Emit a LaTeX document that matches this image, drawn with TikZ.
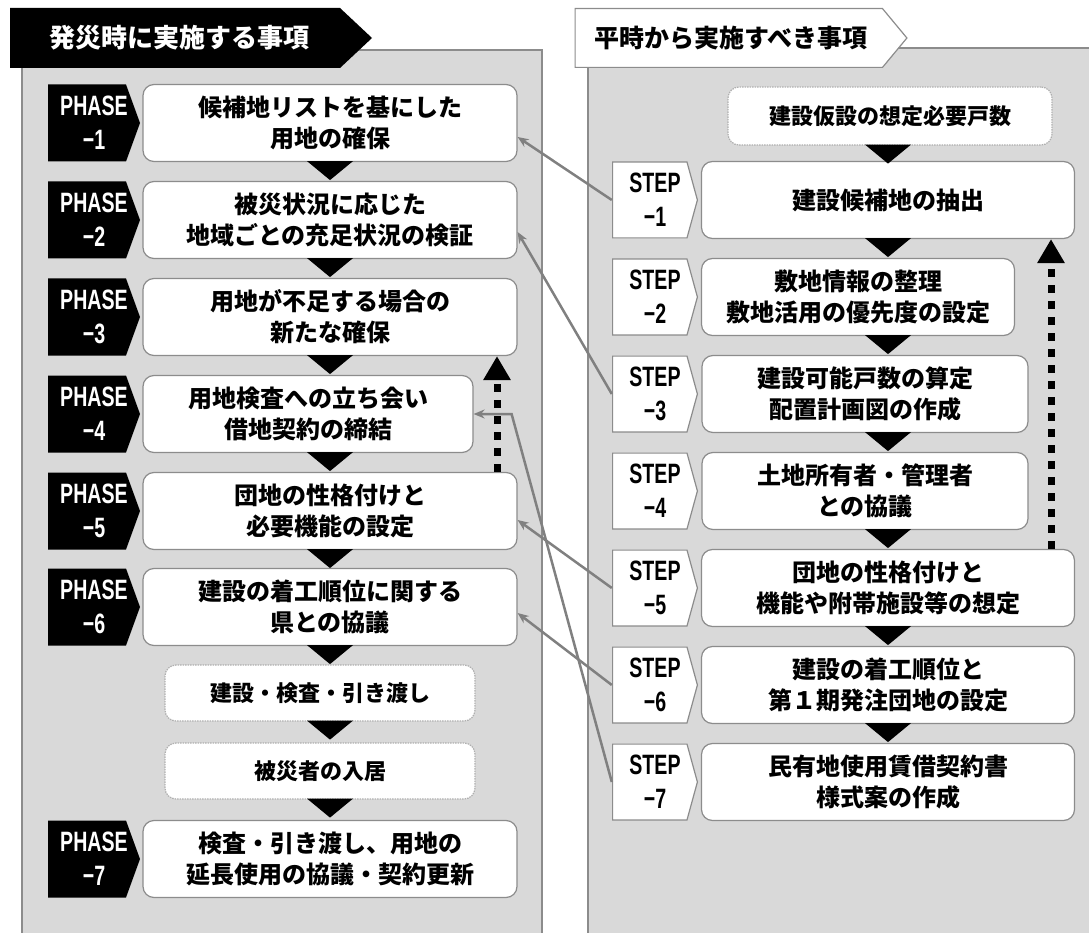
\documentclass[tikz,border=0pt]{standalone}
\usepackage{fontspec}
\setmainfont{Noto Sans CJK JP}
\newfontfamily\tagfont{Liberation Sans}[FakeStretch=0.7]
\usetikzlibrary{arrows.meta}
\definecolor{panelgray}{HTML}{D9D9D9}
\definecolor{linegray}{HTML}{8C8C8C}
\definecolor{linkgray}{HTML}{808080}

\begin{document}
\begin{tikzpicture}[x=1pt, y=-1pt,
        box/.style = {draw=linegray, line width=1.2pt, fill=white, rounded corners=11pt,
            minimum height=77pt, inner sep=0pt, align=center,
            font=\bfseries\fontsize{24}{31}\selectfont},
        dashbox/.style = {box, draw=linegray!70, dash pattern=on 1.5pt off 1pt,
            minimum height=56pt, font=\bfseries\fontsize{22}{30}\selectfont},
        % pentagon drawn inside the node's own box
        arrowfill/.style = {path picture={
            \fill[#1] (path picture bounding box.north west)
                -- ([xshift=-14pt]path picture bounding box.north east)
                -- (path picture bounding box.east)
                -- ([xshift=-14pt]path picture bounding box.south east)
                -- (path picture bounding box.south west) -- cycle;}},
        arrowline/.style = {path picture={
            \filldraw[fill=white, draw=linegray, line width=1.2pt]
                ([xshift=.6pt, yshift=-.6pt]path picture bounding box.north west)
                -- ([xshift=-#1, yshift=-.6pt]path picture bounding box.north east)
                -- ([xshift=-.6pt]path picture bounding box.east)
                -- ([xshift=-#1, yshift=.6pt]path picture bounding box.south east)
                -- ([xshift=.6pt, yshift=.6pt]path picture bounding box.south west) -- cycle;}},
        phase/.style = {arrowfill=black, text=white, minimum width=92pt, minimum height=77pt,
            inner sep=0pt, align=center, font=\tagfont\bfseries\fontsize{28}{34}\selectfont},
        stepbox/.style = {arrowline=11pt, text=black, minimum width=86pt, minimum height=77pt,
            inner sep=0pt, align=center, font=\tagfont\bfseries\fontsize{28}{34}\selectfont},
        link/.style = {draw=linkgray, line width=2.5pt, -{Stealth[length=11pt, width=9pt]}},
        back/.style = {line width=7pt, dash pattern=on 8pt off 8pt,
            -{Triangle[length=24pt, width=26pt]}}
    ]
    \useasboundingbox (0,0) rectangle (1089,933);
    % panels
    \fill[panelgray] (22,50) rectangle (542,933);
    \draw[linegray, line width=1.5pt] (22,933) -- (22,50) -- (542,50) -- (542,933);
    \fill[panelgray] (588,48) rectangle (1089,933);
    \draw[linegray, line width=1.5pt] (588,933) -- (588,48) -- (1089,48);
    % headers
    \node[path picture={\fill[black] (path picture bounding box.north west)
            -- ([xshift=-32pt]path picture bounding box.north east)
            -- (path picture bounding box.east)
            -- ([xshift=-32pt]path picture bounding box.south east)
            -- (path picture bounding box.south west) -- cycle;},
        text=white, minimum width=362pt, minimum height=60pt, inner sep=0pt,
        font=\bfseries\fontsize{26}{30}\selectfont] (lhead) at (191,38)
        {発災時に実施する事項\hspace*{24pt}};
    \node[arrowline=25pt, minimum width=333pt, minimum height=60pt, inner sep=0pt,
        font=\bfseries\fontsize{25}{30}\selectfont] (rhead) at (741,38)
        {平時から実施すべき事項\hspace*{20pt}};
    % left column
    \node[phase] (p1) at (94,123) {PHASE\\−1};
    \node[box, minimum width=374pt] (b1) at (330,123) {候補地リストを基にした\\用地の確保};
    \node[phase] (p2) at (94,220) {PHASE\\−2};
    \node[box, minimum width=374pt] (b2) at (330,220) {被災状況に応じた\\地域ごとの充足状況の検証};
    \node[phase] (p3) at (94,317) {PHASE\\−3};
    \node[box, minimum width=374pt] (b3) at (330,317) {用地が不足する場合の\\新たな確保};
    \node[phase] (p4) at (94,414) {PHASE\\−4};
    \node[box, minimum width=330pt] (b4) at (308,414) {用地検査への立ち会い\\借地契約の締結};
    \node[phase] (p5) at (94,511) {PHASE\\−5};
    \node[box, minimum width=374pt] (b5) at (330,511) {団地の性格付けと\\必要機能の設定};
    \node[phase] (p6) at (94,607) {PHASE\\−6};
    \node[box, minimum width=374pt] (b6) at (330,607) {建設の着工順位に関する\\県との協議};
    \node[dashbox, minimum width=310pt] (da) at (320,693) {建設・検査・引き渡し};
    \node[dashbox, minimum width=310pt] (db) at (320,771) {被災者の入居};
    \node[phase] (p7) at (94,859) {PHASE\\−7};
    \node[box, minimum width=374pt] (b7) at (330,859) {検査・引き渡し、用地の\\延長使用の協議・契約更新};
    % right column
    \node[dashbox, minimum width=324pt, minimum height=58pt] (dt) at (890,116) {建設仮設の想定必要戸数};
    \node[stepbox] (s1) at (655,200) {STEP\\−1};
    \node[box, minimum width=373pt] (r1) at (888,200) {建設候補地の抽出};
    \node[stepbox] (s2) at (655,297) {STEP\\−2};
    \node[box, minimum width=313pt] (r2) at (858,297) {敷地情報の整理\\敷地活用の優先度の設定};
    \node[stepbox] (s3) at (655,394) {STEP\\−3};
    \node[box, minimum width=326pt] (r3) at (865,394) {建設可能戸数の算定\\配置計画図の作成};
    \node[stepbox] (s4) at (655,491) {STEP\\−4};
    \node[box, minimum width=326pt] (r4) at (865,491) {土地所有者・管理者\\との協議};
    \node[stepbox] (s5) at (655,588) {STEP\\−5};
    \node[box, minimum width=373pt] (r5) at (888,588) {団地の性格付けと\\機能や附帯施設等の想定};
    \node[stepbox] (s6) at (655,685) {STEP\\−6};
    \node[box, minimum width=373pt] (r6) at (888,685) {建設の着工順位と\\第１期発注団地の設定};
    \node[stepbox] (s7) at (655,782) {STEP\\−7};
    \node[box, minimum width=373pt] (r7) at (888,782) {民有地使用賃借契約書\\様式案の作成};
    % flow triangles
    \foreach \u in {b1,b2,b3,b4,b5,b6,da,db}
        \fill (\u.south -| b1.south) ++(-23,-1) -- ++(46,0) -- ++(-23,19) -- cycle;
    \foreach \u in {dt,r1,r2,r3,r4,r5,r6}
        \fill (\u.south -| r1.south) ++(-23,-1) -- ++(46,0) -- ++(-23,19) -- cycle;
    % feedback arrows
    \coordinate (lup) at (497,0);
    \coordinate (rup) at (1051,0);
    \draw[back] (b5.north -| lup) -- (b3.south -| lup);
    \draw[back] (r5.north -| rup) -- (r1.south -| rup);
    % links
    \draw[link] (s1.west) -- ([yshift=-14pt]b1.east);
    \draw[link] (s3.west) -- ([yshift=-12pt]b2.east);
    \draw[link] (s5.west) -- ([yshift=-9pt]b5.east);
    \draw[link] (s6.west) -- ([yshift=-6pt]b6.east);
    \draw[link] (s7.west) -- ([xshift=38pt]b4.east) -- (b4.east);
\end{tikzpicture}
\end{document}
